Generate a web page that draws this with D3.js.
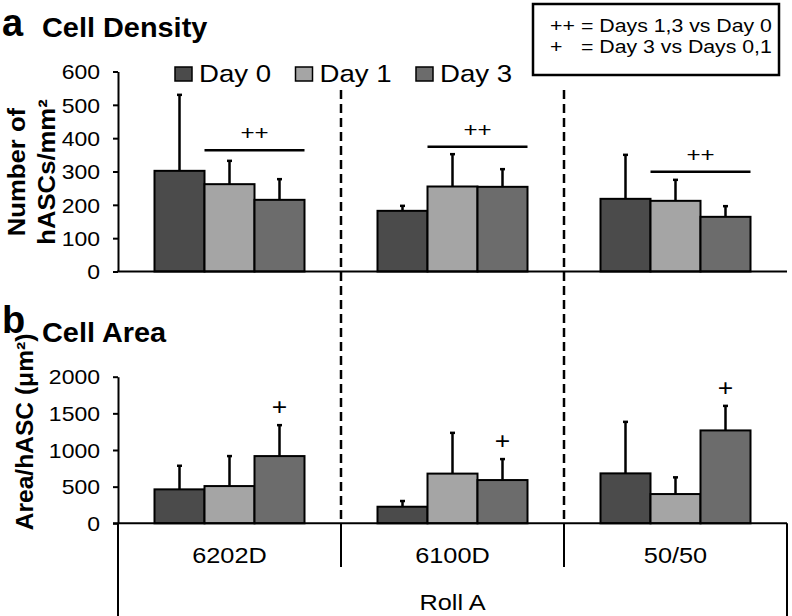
<!DOCTYPE html>
<html>
<head>
<meta charset="utf-8">
<script src="https://cdn.jsdelivr.net/npm/d3@7"></script>
<style>
  html, body { margin: 0; padding: 0; background: #fff; }
  svg { display: block; font-family: 'Liberation Sans', Arial, sans-serif; }
</style>
</head>
<body>
<svg id="chart" width="792" height="616"></svg>
<script>
// values
const categories = ['6202D', '6100D', '50/50'];
const days = ['Day 0', 'Day 1', 'Day 3'];
const dayColors = ['#4b4b4b', '#a5a5a5', '#6c6c6c'];

// cell density (hASCs/mm2), mean per category, one array per day
const densityDay0 = [302, 182, 218];
const densityDay1 = [262, 255, 212];
const densityDay3 = [215, 254, 164];
const densityErrDay0 = [228, 15, 132];
const densityErrDay1 = [70, 97, 63];
const densityErrDay3 = [62, 53, 32];
const densitySigLevel = [364, 374, 299]; // height of the ++ bracket
const densityTicks = [0, 100, 200, 300, 400, 500, 600];

// cell area (um2)
const areaDay0 = [463, 226, 681];
const areaDay1 = [508, 678, 399];
const areaDay3 = [917, 590, 1267];
const areaErrDay0 = [322, 78, 703];
const areaErrDay1 = [409, 556, 228];
const areaErrDay3 = [422, 286, 335];
const areaTicks = [0, 500, 1000, 1500, 2000];

const noteLines = [['++', '= Days 1,3 vs Day 0'], ['+', '= Day 3 vs Days 0,1']];

const SX = 1.15;   // reference glyphs run wider than Liberation Sans
const SXB = 1.07;

const svg = d3.select('#chart');

function addText(parent, o) {
  const r = o.rotate ? ` rotate(${o.rotate})` : '';
  return parent.append('text')
    .attr('transform', `translate(${o.x},${o.y})${r} scale(${o.sx || SX},1)`)
    .attr('text-anchor', o.anchor || 'start')
    .attr('font-size', o.size)
    .attr('font-weight', o.weight || 'normal')
    .attr('fill', '#000')
    .text(o.text);
}

const x = d3.scaleBand().domain(categories).range([118, 787]).padding(0);
const xDay = d3.scaleBand().domain(days).range([0, x.bandwidth()])
  .paddingInner(0).paddingOuter(0.73);

const yTop = d3.scaleLinear().domain([0, 600]).range([271.5, 71.5]);
const yBot = d3.scaleLinear().domain([0, 2000]).range([523.3, 376.7]);

function panelRows(means, errs) {
  const rows = [];
  categories.forEach((c, i) => {
    days.forEach((d, j) => {
      rows.push({ cat: c, day: d, idx: j, value: means[j][i], err: errs[j][i] });
    });
  });
  return rows;
}

const densityRows = panelRows([densityDay0, densityDay1, densityDay3],
  [densityErrDay0, densityErrDay1, densityErrDay3]);
const areaRows = panelRows([areaDay0, areaDay1, areaDay3],
  [areaErrDay0, areaErrDay1, areaErrDay3]);

// separators between categories: dashed over the plots, solid in the label row
const bounds = categories.slice(1).map((c) => x(c));
svg.selectAll('.sep-dash').data(bounds).enter().append('line')
  .attr('x1', (d) => d).attr('x2', (d) => d)
  .attr('y1', 90).attr('y2', yBot(0))
  .attr('stroke', '#000').attr('stroke-width', 2.5)
  .attr('stroke-dasharray', '9,5');
svg.selectAll('.sep-solid').data(bounds).enter().append('line')
  .attr('x1', (d) => d).attr('x2', (d) => d)
  .attr('y1', yBot(0)).attr('y2', 567)
  .attr('stroke', '#000').attr('stroke-width', 2);

function drawBars(rows, y) {
  const g = svg.append('g');
  const bw = xDay.bandwidth();
  // error bars (upper only)
  g.selectAll('.err').data(rows).enter().append('line')
    .attr('x1', (d) => x(d.cat) + xDay(d.day) + bw / 2)
    .attr('x2', (d) => x(d.cat) + xDay(d.day) + bw / 2)
    .attr('y1', (d) => y(d.value))
    .attr('y2', (d) => y(d.value + d.err))
    .attr('stroke', '#000').attr('stroke-width', 2.5);
  g.selectAll('.cap').data(rows).enter().append('line')
    .attr('x1', (d) => x(d.cat) + xDay(d.day) + bw / 2 - 2.5)
    .attr('x2', (d) => x(d.cat) + xDay(d.day) + bw / 2 + 2.5)
    .attr('y1', (d) => y(d.value + d.err))
    .attr('y2', (d) => y(d.value + d.err))
    .attr('stroke', '#000').attr('stroke-width', 2.5);
  g.selectAll('.bar').data(rows).enter().append('rect')
    .attr('x', (d) => x(d.cat) + xDay(d.day))
    .attr('y', (d) => y(d.value))
    .attr('width', bw)
    .attr('height', (d) => y(0) - y(d.value))
    .attr('fill', (d) => dayColors[d.idx])
    .attr('stroke', '#000').attr('stroke-width', 2);
  return g;
}

drawBars(densityRows, yTop);
drawBars(areaRows, yBot);

// y axes
function styleAxis(g, size) {
  g.select('.domain').attr('stroke-width', 2);
  g.selectAll('.tick line').attr('stroke-width', 2);
  g.selectAll('.tick text')
    .attr('x', 0).attr('dy', null)
    .attr('transform', `translate(-18,${size * 0.36}) scale(${SX},1)`)
    .attr('font-size', size)
    .attr('font-family', 'Liberation Sans, Arial, sans-serif')
    .attr('fill', '#000');
}
svg.append('g').attr('transform', 'translate(118,0)')
  .call(d3.axisLeft(yTop).tickValues(densityTicks).tickFormat(d3.format('d'))
    .tickSize(5).tickSizeOuter(0).tickPadding(13))
  .call((g) => styleAxis(g, 20));
svg.append('g').attr('transform', 'translate(118,0)')
  .call(d3.axisLeft(yBot).tickValues(areaTicks).tickFormat(d3.format('d'))
    .tickSize(5).tickSizeOuter(0).tickPadding(13))
  .call((g) => styleAxis(g, 20));

// baselines and category box
svg.append('line').attr('x1', 117).attr('x2', 787)
  .attr('y1', yTop(0)).attr('y2', yTop(0))
  .attr('stroke', '#000').attr('stroke-width', 2);
svg.append('line').attr('x1', 113).attr('x2', 787)
  .attr('y1', yBot(0)).attr('y2', yBot(0))
  .attr('stroke', '#000').attr('stroke-width', 2);
svg.selectAll('.edge').data([118, 787]).enter().append('line')
  .attr('x1', (d) => d).attr('x2', (d) => d)
  .attr('y1', yBot(0)).attr('y2', 616)
  .attr('stroke', '#000').attr('stroke-width', 2);

categories.forEach((c) => {
  addText(svg, { x: x(c) + x.bandwidth() / 2, y: 563, text: c, size: 22, anchor: 'middle' });
});
addText(svg, { x: (118 + 787) / 2, y: 610, text: 'Roll A', size: 22, anchor: 'middle' });

// significance marks, density panel: bracket over Day 1 and Day 3
categories.forEach((c, i) => {
  const x1 = x(c) + xDay('Day 1');
  const x2 = x(c) + xDay('Day 3') + xDay.bandwidth();
  const yy = yTop(densitySigLevel[i]);
  svg.append('line').attr('x1', x1).attr('x2', x2).attr('y1', yy).attr('y2', yy)
    .attr('stroke', '#000').attr('stroke-width', 2.5);
  addText(svg, { x: (x1 + x2) / 2, y: yy - 10, text: '++', size: 21, anchor: 'middle' });
});

// significance marks, area panel: + over Day 3
categories.forEach((c, i) => {
  const cx = x(c) + xDay('Day 3') + xDay.bandwidth() / 2;
  addText(svg, { x: cx, y: yBot(areaDay3[i] + areaErrDay3[i]) - 10, text: '+', size: 23, anchor: 'middle' });
});

// legend
days.forEach((d, i) => {
  const lx = 175 + i * 120.5;
  svg.append('rect').attr('x', lx).attr('y', 67).attr('width', 17).attr('height', 14)
    .attr('fill', dayColors[i]).attr('stroke', '#000').attr('stroke-width', 1.5);
  addText(svg, { x: lx + 24, y: 82, text: d, size: 24 });
});

// note box
svg.append('rect').attr('x', 533).attr('y', 4).attr('width', 246).attr('height', 71)
  .attr('fill', '#fff').attr('stroke', '#000').attr('stroke-width', 2.5);
noteLines.forEach((l, i) => {
  addText(svg, { x: 550, y: 31.5 + i * 21.5, text: l[0], size: 18.5 });
  addText(svg, { x: 581, y: 31.5 + i * 21.5, text: l[1], size: 18.5 });
});

// panel titles
addText(svg, { x: 2, y: 36, text: 'a', size: 38, weight: 'bold', sx: 1 });
addText(svg, { x: 42, y: 37, text: 'Cell Density', size: 27, weight: 'bold', sx: SXB });
addText(svg, { x: 2, y: 333, text: 'b', size: 38, weight: 'bold', sx: 1 });
addText(svg, { x: 42, y: 342, text: 'Cell Area', size: 27, weight: 'bold', sx: SXB });

// y axis titles
addText(svg, { x: 25, y: 172, text: 'Number of', size: 24, weight: 'bold', anchor: 'middle', rotate: -90, sx: SXB });
addText(svg, { x: 55, y: 172, text: 'hASCs/mm²', size: 24, weight: 'bold', anchor: 'middle', rotate: -90, sx: SXB });
addText(svg, { x: 33, y: 432, text: 'Area/hASC (μm²)', size: 23, weight: 'bold', anchor: 'middle', rotate: -90, sx: SXB });
</script>
</body>
</html>
